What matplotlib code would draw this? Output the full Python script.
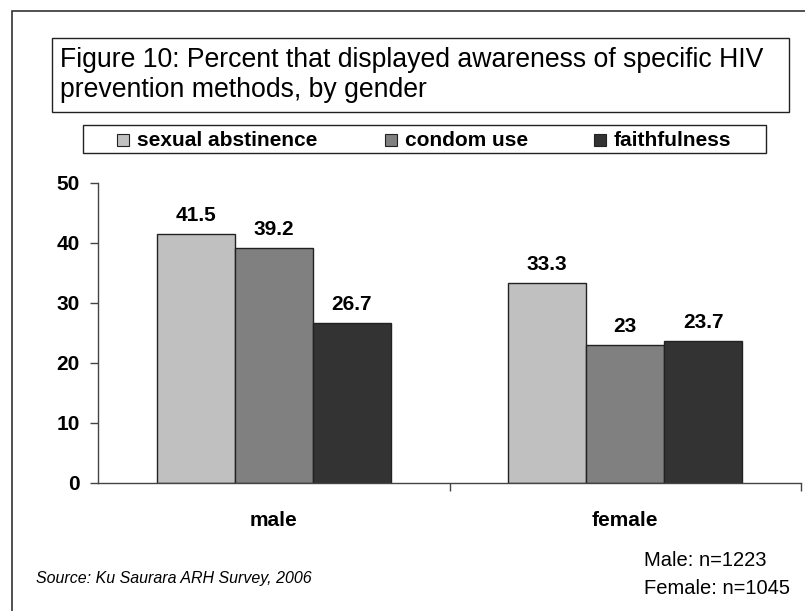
import matplotlib
matplotlib.use("Agg")
import matplotlib.pyplot as plt
from matplotlib.patches import Rectangle

# ---- data ----
groups = ["male", "female"]
series_names = ["sexual abstinence", "condom use", "faithfulness"]
sexual_abstinence = [41.5, 33.3]
condom_use = [39.2, 23]
faithfulness = [26.7, 23.7]
series_values = [sexual_abstinence, condom_use, faithfulness]
series_colors = ["#C0C0C0", "#808080", "#333333"]
y_ticks = [0, 10, 20, 30, 40, 50]

title_text = "Figure 10: Percent that displayed awareness of specific HIV\nprevention methods, by gender"
source_text = "Source: Ku Saurara ARH Survey, 2006"
sample_text = ["Male: n=1223", "Female: n=1045"]

W, H = 805, 611
plt.rcParams["font.family"] = ["Liberation Sans", "DejaVu Sans"]

fig = plt.figure(figsize=(W / 100, H / 100), dpi=100)
fig.patch.set_facecolor("white")


def fx(x):
    return x / W


def fy(y):
    return 1 - y / H


# outer frame (only its left and top edges fall inside the canvas)
fig.add_artist(Rectangle((fx(12), fy(H + 20)), fx(W + 20), (H + 20 - 11) / H,
                         transform=fig.transFigure, fill=False,
                         edgecolor="#333333", linewidth=1.2))

# title box
fig.add_artist(Rectangle((fx(52), fy(112)), fx(789 - 52), (112 - 38) / H,
                         transform=fig.transFigure, fill=False,
                         edgecolor="#222222", linewidth=1.0))
fig.text(fx(60), fy(75), title_text, fontsize=19.2, ha="left", va="center",
         linespacing=1.2, color="black")

# legend box
fig.add_artist(Rectangle((fx(83), fy(153)), fx(766 - 83), (153 - 125) / H,
                         transform=fig.transFigure, fill=False,
                         edgecolor="#222222", linewidth=1.0))
legend_x = [117, 385, 594]
for lx, name, col in zip(legend_x, series_names, series_colors):
    fig.add_artist(Rectangle((fx(lx), fy(146)), fx(12), 12 / H,
                             transform=fig.transFigure, facecolor=col,
                             edgecolor="#222222", linewidth=0.8))
    fig.text(fx(lx + 20), fy(140), name, fontsize=15, fontweight="bold",
             ha="left", va="center")

# plot area
ax = fig.add_axes([fx(98), fy(483), fx(801 - 98), (483 - 183) / H])
bar_w = 0.2222
n = len(series_values)
for i, (vals, col) in enumerate(zip(series_values, series_colors)):
    xs = [g + (i - (n - 1) / 2) * bar_w for g in range(len(groups))]
    bars = ax.bar(xs, vals, width=bar_w, color=col, edgecolor="#222222",
                  linewidth=1.0, zorder=2)
    for b, v in zip(bars, vals):
        ax.annotate(f"{v:g}", (b.get_x() + b.get_width() / 2, v),
                    xytext=(0, 9.5), textcoords="offset points",
                    ha="center", va="baseline", fontsize=15,
                    fontweight="bold")

ax.set_xlim(-0.5, len(groups) - 0.5)
ax.set_ylim(0, 50)
ax.set_yticks(y_ticks)
ax.set_yticklabels([str(t) for t in y_ticks], fontsize=15, fontweight="bold")
ax.set_xticks([0.5, 1.5])
ax.set_xticklabels([])
ax.set_xticks(range(len(groups)), minor=True)
ax.set_xticklabels(groups, minor=True, fontsize=15, fontweight="bold")
ax.tick_params(axis="x", which="minor", length=0, pad=20)
ax.tick_params(axis="x", which="major", length=6, width=1,
               direction="out", color="#444444")
ax.tick_params(axis="y", length=6, width=1, direction="out",
               color="#444444", pad=7)
for side in ("top", "right"):
    ax.spines[side].set_visible(False)
for side in ("left", "bottom"):
    ax.spines[side].set_color("#444444")
    ax.spines[side].set_linewidth(1.0)
ax.patch.set_alpha(0)

# footer notes
fig.text(fx(36), fy(578), source_text, fontsize=11.5, style="italic",
         ha="left", va="center")
fig.text(fx(644), fy(560), sample_text[0], fontsize=14.5, ha="left", va="center")
fig.text(fx(644), fy(588), sample_text[1], fontsize=14.5, ha="left", va="center")

fig.savefig("out.png", dpi=100)
